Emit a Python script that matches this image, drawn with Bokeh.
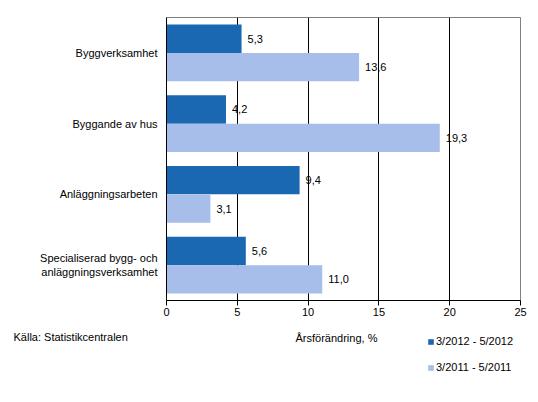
from bokeh.plotting import figure
from bokeh.models import (ColumnDataSource, Range1d, FactorRange, FixedTicker,
                          Label, Legend, LegendItem)
from bokeh.layouts import column
from bokeh.transform import dodge
from bokeh.core.properties import value
from bokeh.embed import file_html
from bokeh.resources import INLINE

categories = ["Byggverksamhet", "Byggande av hus", "Anläggningsarbeten",
              "Specialiserad bygg- och\nanläggningsverksamhet"]
series_2012 = [5.3, 4.2, 9.4, 5.6]
series_2011 = [13.6, 19.3, 3.1, 11.0]
series_names = ["3/2012 - 5/2012", "3/2011 - 5/2011"]
x_ticks = [0, 5, 10, 15, 20, 25]

dark = "#1b68b2"
light = "#a7bdea"
font = "Liberation Sans"

def fmt(v):
    return f"{v:.1f}".replace(".", ",")

source = ColumnDataSource(data=dict(
    cat=categories,
    v12=series_2012,
    v11=series_2011,
    t12=[fmt(v) for v in series_2012],
    t11=[fmt(v) for v in series_2011],
))

p = figure(
    width=530, height=322,
    y_range=FactorRange(factors=list(reversed(categories))),
    x_range=Range1d(0, 25),
    output_backend="svg",
    toolbar_location=None,
    tools="",
    min_border_left=166, min_border_right=10,
    min_border_top=17, min_border_bottom=22,
)
p.frame_align = False

p.outline_line_color = "#808080"
p.background_fill_color = "white"
p.border_fill_color = "white"

p.hbar(y=dodge("cat", 0.2, range=p.y_range), right="v12", left=0,
       height=0.4, source=source, fill_color=dark, line_color=None)
p.hbar(y=dodge("cat", -0.2, range=p.y_range), right="v11", left=0,
       height=0.4, source=source, fill_color=light, line_color=None)

p.text(x="v12", y=dodge("cat", 0.2, range=p.y_range), text="t12", source=source,
       x_offset=6, text_baseline="middle", text_font=value(font),
       text_font_size="11px", text_color="black")
p.text(x="v11", y=dodge("cat", -0.2, range=p.y_range), text="t11", source=source,
       x_offset=6, text_baseline="middle", text_font=value(font),
       text_font_size="11px", text_color="black")

# only the inner vertical grid lines
p.ygrid.grid_line_color = None
p.xgrid.ticker = FixedTicker(ticks=[5, 10, 15, 20])
p.xgrid.grid_line_color = "black"

p.xaxis.ticker = FixedTicker(ticks=x_ticks)
p.xaxis.axis_line_color = "black"
p.xaxis.major_tick_line_color = "black"
p.xaxis.major_tick_out = 5
p.xaxis.major_tick_in = 0
p.xaxis.minor_tick_line_color = None
p.xaxis.major_label_standoff = 2
p.xaxis.major_label_text_font = font
p.xaxis.major_label_text_font_size = "11px"
p.xaxis.major_label_text_color = "black"

p.yaxis.axis_line_color = "black"
p.yaxis.major_tick_line_color = None
p.yaxis.major_tick_out = 0
p.yaxis.major_tick_in = 0
p.yaxis.major_label_standoff = 9
p.yaxis.major_label_text_font = font
p.yaxis.major_label_text_font_size = "11px"
p.yaxis.major_label_text_color = "black"

# footer strip: source note, axis title and legend
foot = figure(
    width=530, height=72,
    x_range=Range1d(0, 1), y_range=Range1d(0, 1),
    output_backend="svg", toolbar_location=None, tools="",
    x_axis_location=None, y_axis_location=None,
    min_border_left=0, min_border_right=0, min_border_top=0, min_border_bottom=0,
)
foot.frame_align = False
foot.outline_line_color = None
foot.grid.grid_line_color = None

# legend keys only; they sit outside the footer's range
key_dark = foot.hbar(y=-10, right="v12", left=0, height=0.4, source=source,
                     fill_color=dark, line_color=None)
key_light = foot.hbar(y=-10, right="v11", left=0, height=0.4, source=source,
                      fill_color=light, line_color=None)

foot.add_layout(Label(x=13, y=58, x_units="screen", y_units="screen",
                      text="Källa: Statistikcentralen", text_font=font,
                      text_font_size="11px", text_baseline="middle",
                      text_color="black"))
foot.add_layout(Label(x=295, y=57, x_units="screen", y_units="screen",
                      text="Årsförändring, %", text_font=font,
                      text_font_size="11px", text_baseline="middle",
                      text_color="black"))

legend = Legend(items=[
    LegendItem(label=series_names[0], renderers=[key_dark]),
    LegendItem(label=series_names[1], renderers=[key_light]),
], location=(427, 21))
legend.glyph_width = 7
legend.glyph_height = 7
legend.label_height = 12
legend.label_standoff = 2
legend.spacing = 14
legend.padding = 0
legend.margin = 0
legend.border_line_color = None
legend.background_fill_alpha = 0
legend.label_text_font = font
legend.label_text_font_size = "11px"
legend.label_text_color = "black"
foot.add_layout(legend, "center")

layout = column(p, foot, spacing=0)

open("out.html", "w").write(file_html(layout, INLINE))
